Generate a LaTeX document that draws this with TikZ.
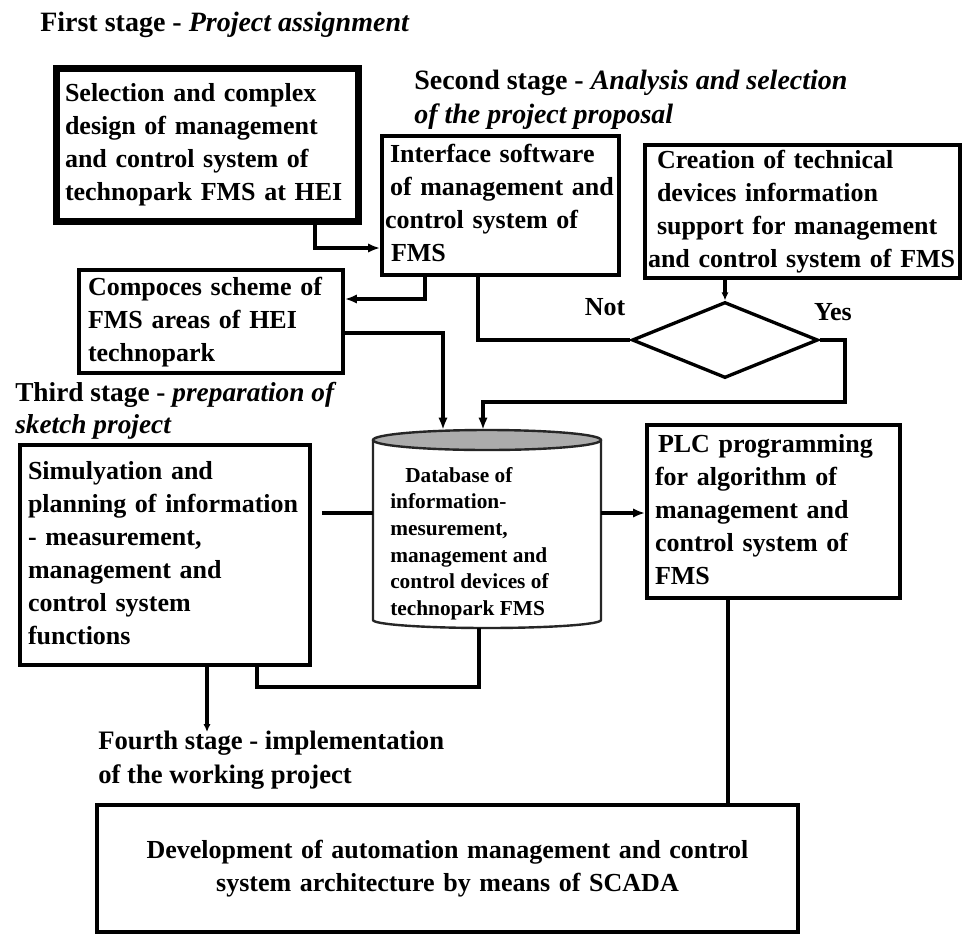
\documentclass[tikz,border=0pt]{standalone}
\usepackage{fontspec}
\setmainfont{Liberation Serif}
\usetikzlibrary{arrows.meta,shapes.geometric}
\newcommand\mainf{\fontsize{19.5pt}{24.75pt}\selectfont\bfseries}
\newcommand\titlef{\fontsize{21pt}{25.5pt}\selectfont\bfseries}
\newcommand\thirdf{\fontsize{20.5pt}{24pt}\selectfont\bfseries}
\newcommand\fourthf{\fontsize{20pt}{25.5pt}\selectfont\bfseries}
\newcommand\dbf{\fontsize{16pt}{20pt}\selectfont\bfseries}
\newcommand\tlines[1]{\begin{tabular}{@{}l@{}}#1\end{tabular}}
\begin{document}
\begin{tikzpicture}[x=0.75pt,y=-0.75pt,
  stagebox/.style={draw, rectangle, line width=2.8pt, align=left, font=\mainf, inner ysep=0pt},
  link/.style={line width=2.7pt},
  arrowed/.style={-{Latex[length=9pt,width=7pt]}},
  smallarrowed/.style={-{Latex[length=6pt,width=5.5pt]}},
  stagetitle/.style={anchor=west, inner sep=0pt, align=left},
  cyl/.style={line width=1.8pt, draw=black!85}
]
\useasboundingbox[fill=white] (0,0) rectangle (965,936);

% titles
\node[stagetitle, font=\titlef] (t1) at (40,25) {First stage - \textit{Project assignment}};
\node[stagetitle, font=\titlef] (t2) at (414,100) {\tlines{Second stage - \textit{Analysis and selection}\\\textit{of the project proposal}}};
\node[stagetitle, font=\thirdf] (t3) at (15,411) {\tlines{Third stage - \textit{preparation of}\\\textit{sketch project}}};
\node[stagetitle, font=\fourthf] (t4) at (98,760) {\tlines{Fourth stage - implementation\\of the working project}};

% boxes
\node[stagebox, line width=5.25pt, minimum width=226.5pt, minimum height=114.75pt, text width=213pt, inner xsep=6.75pt] (box1) at (207,144.5)
  {\tlines{Selection and complex\\design of management\\and control system of\\technopark FMS at HEI}};
\node[stagebox, minimum width=177.75pt, minimum height=104.25pt, text width=173.25pt, inner xsep=2.25pt] (box2) at (500.5,205.5)
  {\tlines{\hspace*{3.75pt}Interface software\\\hspace*{3.75pt}of management and\\control system of\\\hspace*{4.5pt}FMS}};
\node[stagebox, minimum width=236.25pt, minimum height=99.75pt, text width=231.75pt, inner xsep=2.25pt] (box3) at (802.5,211.5)
  {\tlines{\hspace*{6.75pt}Creation of technical\\\hspace*{6.75pt}devices information\\\hspace*{6.75pt}support for management\\and control system of FMS}};
\node[stagebox, minimum width=198pt, minimum height=77.25pt, text width=184.5pt, inner xsep=6.75pt] (box4) at (211,321.5)
  {\tlines{Compoces scheme of\\FMS areas of HEI\\technopark}};
\node[stagebox, minimum width=217.5pt, minimum height=165pt, text width=205.5pt, inner xsep=6pt] (box5) at (165,555)
  {\tlines{Simulyation and\\planning of information\\- measurement,\\management and\\control system\\functions}};
\node[stagebox, minimum width=189.75pt, minimum height=129.75pt, text width=177.75pt, inner xsep=6pt] (plc) at (773.5,511.5)
  {\tlines{\hspace*{2.25pt}PLC programming\\for algorithm of\\management and\\control system of\\FMS}};
\node[stagebox, align=center, minimum width=525.75pt, minimum height=95.25pt, text width=500pt] (box6) at (447.5,868.5)
  {Development of automation management and control\\system architecture by means of SCADA};

% decision
\node[draw, diamond, line width=2.5pt, minimum width=139.5pt, minimum height=57pt, inner sep=0pt] (dia) at (725,340) {};
\node[font=\mainf, inner sep=0pt] (notlbl) at (605,307) {Not};
\node[font=\mainf, inner sep=0pt] (yeslbl) at (833,312) {Yes};

% database cylinder
\node[minimum width=171pt, minimum height=148.5pt, inner sep=0pt] (db) at (487,529) {};
\draw[cyl, fill=white] (373,440) -- (373,620) arc[start angle=180, end angle=0, x radius=114, y radius=8] -- (601,440);
\filldraw[cyl, fill=gray!65] (487,440) ellipse [x radius=114, y radius=10];
\node[stagetitle, font=\dbf] (dbtext) at (390,543.5)
  {\tlines{\hspace*{11.25pt}Database of\\information-\\mesurement,\\management and\\control devices of\\technopark FMS}};

% bend points
\coordinate (k1) at (315,248);
\coordinate (k2) at (425,299);
\coordinate (k3) at (478,338);
\coordinate (k5a) at (845,402);
\coordinate (k5b) at (483,402);
\coordinate (k6) at (443,333);
\coordinate (k7) at (0,513);
\coordinate (k9) at (479,687);
\coordinate (k9b) at (257,687);
\coordinate (k10) at (207,732);
\coordinate (k11) at (728,0);

% connectors
\draw[link, arrowed] (box1.south -| k1) |- (box2.west |- k1);
\draw[link, arrowed] (box2.south -| k2) |- (box4.east |- k2);
\draw[link] (box2.south -| k3) |- (dia.west);
\draw[link, smallarrowed] (box3.south -| dia.north) -- (dia.north);
\draw[link, arrowed] (dia.east) -| (k5a) -- (k5b) -- (k5b |- db.north);
\draw[link, arrowed] (box4.east |- k6) -| (k6 |- db.north);
\draw[link] ([xshift=7.5pt]box5.east |- k7) -- (db.west |- k7);
\draw[link, arrowed] (db.east |- k7) -- (plc.west |- k7);
\draw[link] (db.south -| k9) |- (k9b) -- (box5.south -| k9b);
\draw[link, smallarrowed] (box5.south -| k10) -- (k10);
\draw[link] (plc.south -| k11) -- (box6.north -| k11);
\end{tikzpicture}
\end{document}
